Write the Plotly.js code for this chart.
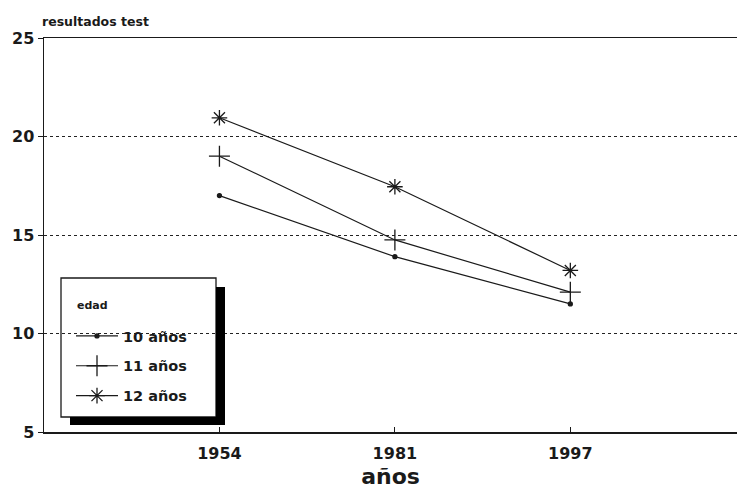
<!DOCTYPE html>
<html><head><meta charset="utf-8">
<script src="https://cdn.plot.ly/plotly-3.0.1.min.js"></script>
<style>html,body{margin:0;padding:0;background:#fff}</style>
</head><body><div id="chart" style="width:737px;height:489px"></div>
<script>
const years = ['1954', '1981', '1997'];
const edad10 = [17.0, 13.9, 11.5];
const edad11 = [19.0, 14.75, 12.1];
const edad12 = [20.95, 17.45, 13.2];
const seriesNames = ['10 años', '11 años', '12 años'];
const yTicks = [5, 10, 15, 20, 25];

const F = 'DejaVu Sans';
const ink = '#1a1a1a';
function tr(y, name, sym, size, g) {
  return {x: years, y: y, name: name, type: 'scatter', mode: 'lines+markers',
    legendgroup: g,
    line: {color: ink, width: 1.2},
    marker: {symbol: sym, size: size, color: ink, line: {color: ink, width: 1.3}}};
}
const data = [
  tr(edad10, seriesNames[0], 'circle', 4, 'a'),
  tr(edad11, seriesNames[1], 'cross-thin-open', 15, 'b'),
  tr(edad12, seriesNames[2], 'asterisk-open', 13, 'c')
];
const L = 44, T = 38, W = 693, H = 394;
const px = v => (v - L) / W;
const pyv = v => (T + H - v) / H;
const layout = {
  width: 737, height: 489,
  margin: {l: L, r: 0, t: T, b: 489 - T - H},
  paper_bgcolor: '#fff', plot_bgcolor: '#fff',
  font: {family: F, color: ink},
  title: {text: 'resultados test', font: {family: F, size: 12.5, weight: 'bold', color: ink},
    x: 42 / 737, xref: 'container', xanchor: 'left', y: 1 - 22 / 489, yref: 'container', yanchor: 'middle'},
  xaxis: {type: 'category', range: [-1, 2.95], showline: true, linecolor: ink, linewidth: 1.5, mirror: true,
    ticks: 'inside', ticklen: 5, tickcolor: ink, showgrid: false, zeroline: false,
    ticklabelstandoff: 6,
    tickfont: {family: F, size: 16, weight: 'bold', color: ink},
    title: {text: 'años', font: {family: F, size: 22, weight: 'bold', color: ink}, standoff: 17}},
  yaxis: {range: [5, 25], tickvals: yTicks, showline: true, linecolor: ink, linewidth: 1.5,
    ticks: 'outside', ticklen: 5, tickcolor: ink, zeroline: false,
    showgrid: true, gridcolor: '#222', gridwidth: 1, griddash: '3px,3px',
    tickfont: {family: F, size: 16, weight: 'bold', color: ink}},
  showlegend: true,
  legend: {x: px(71), y: pyv(320), xanchor: 'left', yanchor: 'top',
    bgcolor: 'rgba(0,0,0,0)', borderwidth: 0, traceorder: 'grouped', tracegroupgap: 8,
    itemwidth: 42,
    font: {family: F, size: 14.5, weight: 'bold', color: ink}},
  annotations: [
    {text: 'edad', xref: 'paper', yref: 'paper', x: px(75), y: pyv(305), xanchor: 'left', yanchor: 'middle',
      showarrow: false, font: {family: F, size: 11, weight: 'bold', color: ink}}
  ],
  shapes: [
    {type: 'rect', xref: 'paper', yref: 'paper', x0: px(61), x1: px(216), y0: pyv(417), y1: pyv(278),
      line: {color: ink, width: 1.3}, fillcolor: 'rgba(0,0,0,0)'},
    {type: 'rect', xref: 'paper', yref: 'paper', x0: px(216), x1: px(225), y0: pyv(425), y1: pyv(287),
      line: {width: 0}, fillcolor: '#000'},
    {type: 'rect', xref: 'paper', yref: 'paper', x0: px(70), x1: px(225), y0: pyv(425), y1: pyv(417),
      line: {width: 0}, fillcolor: '#000'}
  ]
};
Plotly.newPlot('chart', data, layout, {displayModeBar: false, staticPlot: true});
</script></body></html>
